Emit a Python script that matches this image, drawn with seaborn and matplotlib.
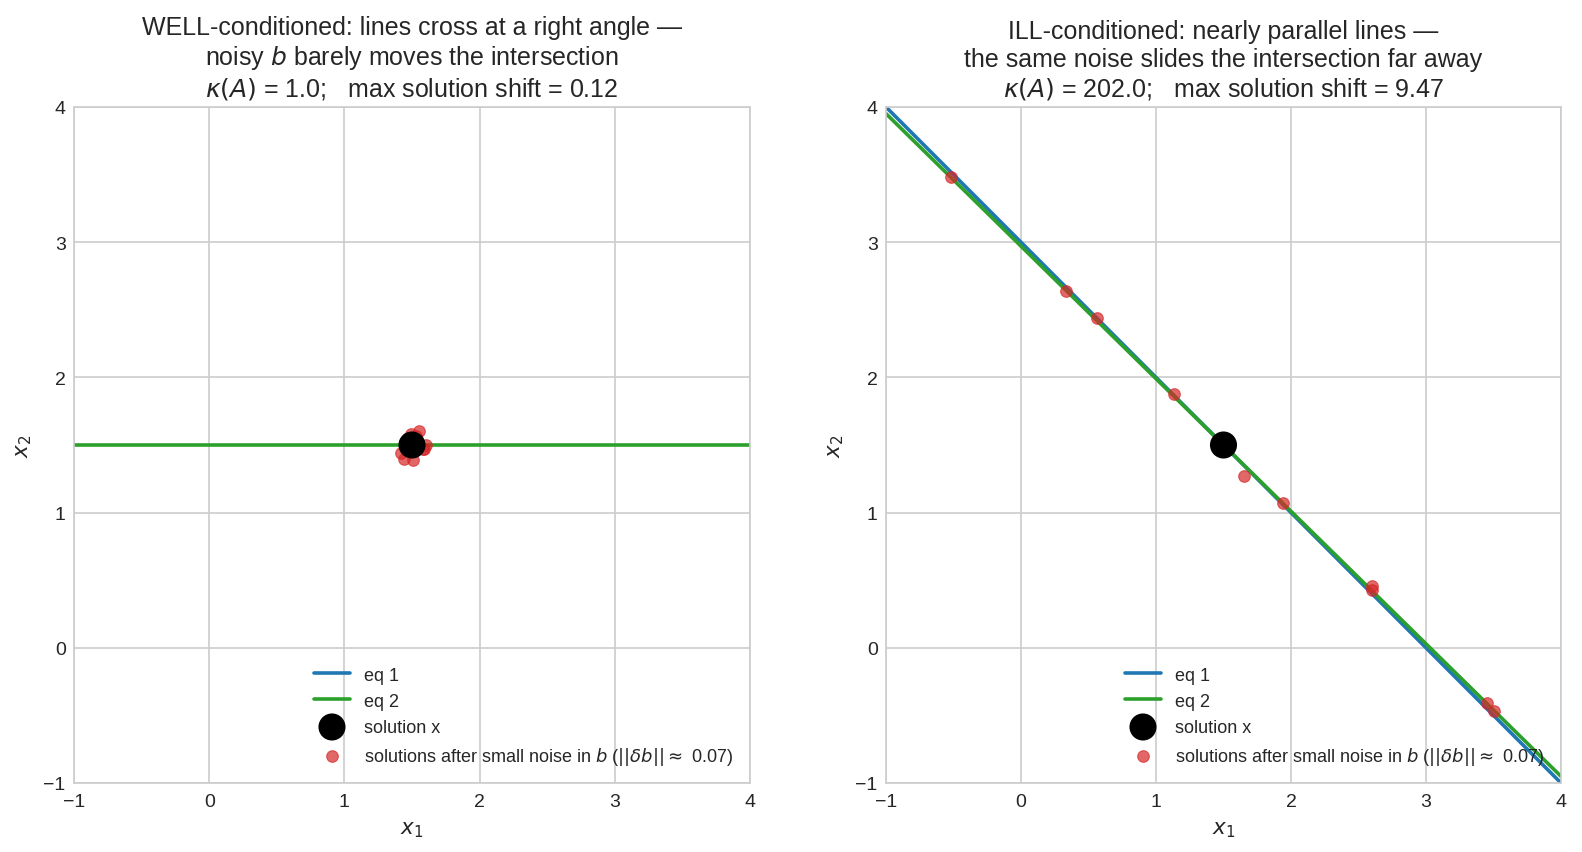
import numpy as np
import matplotlib
matplotlib.use("Agg")
import matplotlib.pyplot as plt
import seaborn as sns

# ---- data ----
# well-conditioned system A x = b
A_well = [[1.0, 0.0], [0.0, 1.0]]
b_well = [1.5, 1.5]
# ill-conditioned system
A_ill = [[1.0, 1.0], [1.0, 1.02]]
b_ill = [3.0, 3.03]
solution = [1.5, 1.5]

well_noisy_x1 = [1.55, 1.47, 1.44, 1.51, 1.42, 1.60, 1.59, 1.49, 1.45, 1.58, 1.53]
well_noisy_x2 = [1.60, 1.55, 1.40, 1.39, 1.44, 1.50, 1.47, 1.58, 1.52, 1.47, 1.57]

ill_noisy_x1 = [-0.52, 0.33, 0.56, 1.13, 1.65, 1.94, 2.60, 2.60, 3.45, 3.50]
ill_noisy_x2 = [3.485, 2.64, 2.44, 1.88, 1.27, 1.07, 0.46, 0.43, -0.41, -0.47]

titles = [
    "WELL-conditioned: lines cross at a right angle —\nnoisy $b$ barely moves the intersection\n"
    "$\\kappa(A)$ = 1.0;   max solution shift = 0.12",
    "ILL-conditioned: nearly parallel lines —\nthe same noise slides the intersection far away\n"
    "$\\kappa(A)$ = 202.0;   max solution shift = 9.47",
]
ticks = [-1, 0, 1, 2, 3, 4]
noise_label = "solutions after small noise in $b$ ($||\\delta b|| \\approx$ 0.07)"

# ---- style ----
sns.set_style("whitegrid", {"axes.edgecolor": ".8", "grid.color": ".8"})
plt.rcParams["font.family"] = ["Liberation Sans", "DejaVu Sans"]
plt.rcParams["mathtext.fontset"] = "dejavusans"

fig = plt.figure(figsize=(15.82, 8.53), dpi=100)
ax_l = fig.add_axes([74 / 1582, 69 / 853, 676 / 1582, 676 / 853])
ax_r = fig.add_axes([886 / 1582, 69 / 853, 675 / 1582, 676 / 853])

x1_grid = np.linspace(-1, 4, 200)
blue, green, red = "#1f77b4", "#2ca02c", "#d62728"

for ax, A, b, nx1, nx2, title in [
    (ax_l, A_well, b_well, well_noisy_x1, well_noisy_x2, titles[0]),
    (ax_r, A_ill, b_ill, ill_noisy_x1, ill_noisy_x2, titles[1]),
]:
    for (a1, a2), bi, col, lab in zip(A, b, [blue, green], ["eq 1", "eq 2"]):
        with np.errstate(divide="ignore", invalid="ignore"):
            x2 = (bi - a1 * x1_grid) / a2 if a2 != 0 else np.full_like(x1_grid, np.nan)
        ax.plot(x1_grid, x2, color=col, lw=2.6, label=lab, zorder=2)
    sns.scatterplot(x=[solution[0]], y=[solution[1]], ax=ax, color="black", s=380,
                    edgecolor="none", label="solution x", zorder=6)
    sns.scatterplot(x=nx1, y=nx2, ax=ax, color=red, s=70, alpha=0.7,
                    edgecolor=red, linewidth=0.8, label=noise_label, zorder=4)
    ax.set_xlim(-1, 4)
    ax.set_ylim(-1, 4)
    ax.set_xticks(ticks)
    ax.set_yticks(ticks)
    ax.tick_params(labelsize=14, colors="#262626", length=0)
    ax.tick_params(axis="x", pad=7)
    ax.tick_params(axis="y", pad=6)
    ax.set_xlabel("$x_1$", fontsize=15.5, color="#262626", labelpad=6)
    ax.set_ylabel("$x_2$", fontsize=15.5, color="#262626", labelpad=7)
    ax.set_title(title, fontsize=18, color="#262626", pad=8)
    for s in ax.spines.values():
        s.set_color("#cccccc")
        s.set_linewidth(1.2)
    ax.grid(True, color="#cccccc", lw=1.2)
    leg = ax.legend(loc="lower right", frameon=False, fontsize=13, markerscale=1.0)

fig.savefig("out.png", dpi=100)
